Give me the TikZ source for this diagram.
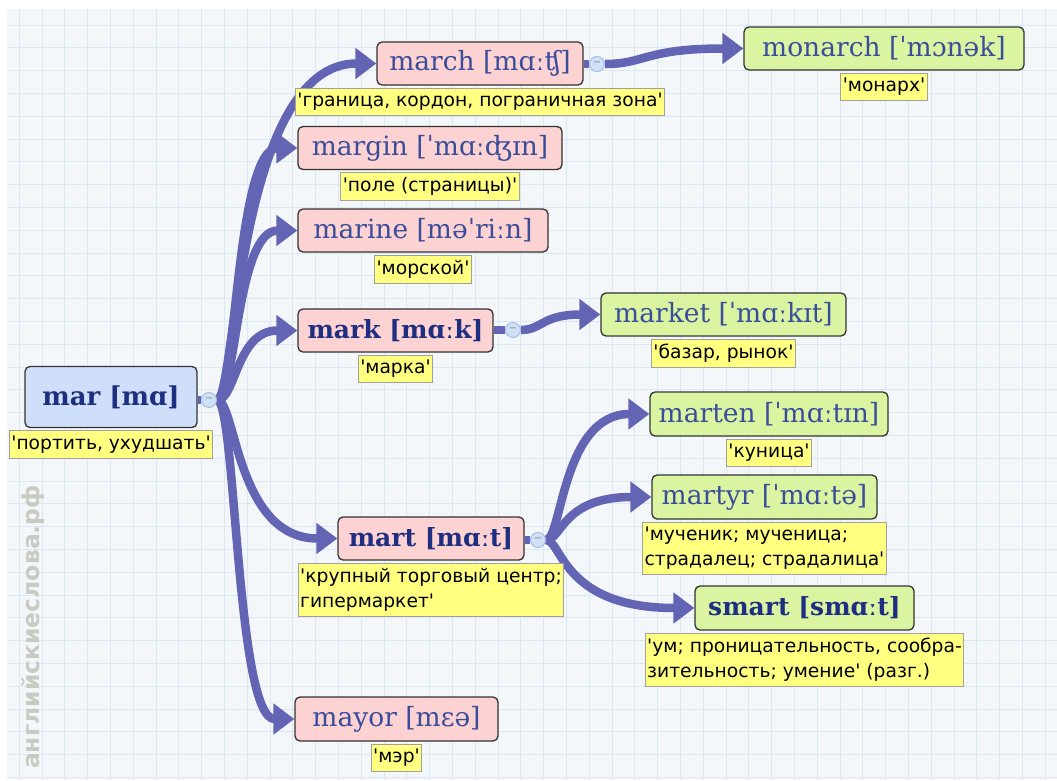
\documentclass[tikz,border=0pt]{standalone}
\usepackage{fontspec}
\setmainfont{DejaVu Serif}
\newfontfamily\hwfont{DejaVu Serif}[Ligatures=TeXOff]
\newfontfamily\glfont{DejaVu Sans}[Ligatures=TeXOff]
\newfontfamily\wmfont{DejaVu Sans}[Ligatures=TeXOff]
\usetikzlibrary{arrows.meta,positioning,calc}
\pgfdeclarelayer{gridlayer}
\pgfdeclarelayer{linklayer}
\pgfsetlayers{gridlayer,linklayer,main}
\definecolor{gridbg}{HTML}{F4F7FA}
\definecolor{gridline}{HTML}{DCE8F1}
\definecolor{linkc}{HTML}{6464B4}
\definecolor{rootfill}{HTML}{CFDFFA}
\definecolor{pinkfill}{HTML}{FCD2D2}
\definecolor{greenfill}{HTML}{DAF4A2}
\definecolor{glossfill}{HTML}{FFFF80}
\definecolor{glossline}{HTML}{A0A0A0}
\definecolor{hwtext}{HTML}{3A4D9A}
\definecolor{hwbold}{HTML}{1E2E80}
\definecolor{knobfill}{HTML}{D0E0F6}
\definecolor{knobline}{HTML}{A6BEE6}
\definecolor{wmcolor}{HTML}{C9CBC2}
\tikzset{
  word/.style={draw=black!80, line width=1.3pt, rounded corners=5pt, inner sep=0pt,
    minimum height=43pt, text=hwtext, font=\hwfont\fontsize{26.5}{30}\selectfont},
  boldword/.style={word, text=hwbold, font=\hwfont\bfseries\fontsize{25}{30}\selectfont},
  pinkword/.style={fill=pinkfill},
  greenword/.style={fill=greenfill},
  gloss/.style={draw=glossline, fill=glossfill, line width=1pt, inner xsep=2pt, inner ysep=5pt,
    align=left, font=\glfont\fontsize{18.7}{25}\selectfont, text=black},
  knob/.style={circle, draw=knobline, fill=knobfill, line width=1pt, minimum size=15pt,
    inner sep=0pt, text=black!45, font=\glfont\fontsize{10}{10}\selectfont},
  link/.style={draw=linkc, line width=8.5pt, -{Triangle[length=21pt 0 0,width=30pt 0 0]}},
  stub/.style={draw=linkc, line width=8.5pt},
}
\begin{document}
\begin{tikzpicture}[x=1pt,y=-1pt]
\useasboundingbox (0,0) rectangle (1057,780);
% background grid
\begin{pgfonlayer}{gridlayer}
  \fill[white] (0,0) rectangle (1057,780);
  \fill[gridbg] (7,9) rectangle (1057,780);
  \foreach \i in {0,...,45} \draw[gridline, line width=1pt] (19.3+\i*22.8,9) -- (19.3+\i*22.8,780);
  \foreach \j in {0,...,33} \draw[gridline, line width=1pt] (7,25+\j*22.8) -- (1057,25+\j*22.8);
\end{pgfonlayer}

% watermark
\node[rotate=90, text=wmcolor, font=\wmfont\bfseries\fontsize{23.5}{23.5}\selectfont] (wm) at (33,627) {английскиеслова.рф};

% headwords
\node[boldword, fill=rootfill, minimum width=172pt, minimum height=61pt, font=\hwfont\bfseries\fontsize{26}{30}\selectfont] (mar) at (111,397) {mar [mɑ]};
\node[word, pinkword, minimum width=206pt] (march) at (480,63.5) {march [mɑːʧ]};
\node[word, greenword, minimum width=280pt] (monarch) at (884,48.5) {monarch [ˈmɔnək]};
\node[word, pinkword, minimum width=264pt] (margin) at (430,148) {margin [ˈmɑːʤɪn]};
\node[word, pinkword, minimum width=250pt] (marine) at (423,230.5) {marine [məˈriːn]};
\node[boldword, pinkword, minimum width=195pt] (mark) at (395.5,330.5) {mark [mɑːk]};
\node[word, greenword, minimum width=245pt] (market) at (723.5,314.5) {market [ˈmɑːkɪt]};
\node[word, greenword, minimum width=238pt, minimum height=44pt] (marten) at (769,414) {marten [ˈmɑːtɪn]};
\node[word, greenword, minimum width=225pt, minimum height=44pt] (martyr) at (764.5,497) {martyr [ˈmɑːtə]};
\node[boldword, pinkword, minimum width=186pt] (mart) at (431,538.5) {mart [mɑːt]};
\node[boldword, greenword, minimum width=219pt, minimum height=44pt] (smart) at (804.5,608) {smart [smɑːt]};
\node[word, pinkword, minimum width=203pt, minimum height=44pt] (mayor) at (396.5,719) {mayor [mɛə]};

% glosses
\node[gloss, below=2pt of mar] (gmar) {'портить, ухудшать'};
\node[gloss, below=2pt of march] (gmarch) {'граница, кордон, пограничная зона'};
\node[gloss, below=2pt of monarch] (gmonarch) {'монарх'};
\node[gloss, below=2pt of margin] (gmargin) {'поле (страницы)'};
\node[gloss, below=2pt of marine] (gmarine) {'морской'};
\node[gloss, below=2pt of mark] (gmark) {'марка'};
\node[gloss, below=2pt of market] (gmarket) {'базар, рынок'};
\node[gloss, below=2pt of marten] (gmarten) {'куница'};
\node[gloss, below=2pt of martyr] (gmartyr) {'мученик; мученица;\\страдалец; страдалица'};
\node[gloss, below=2pt of mart] (gmart) {'крупный торговый центр;\\гипермаркет'};
\node[gloss, below=2pt of smart] (gsmart) {'ум; проницательность, сообра-\\зительность; умение' (разг.)};
\node[gloss, below=2pt of mayor] (gmayor) {'мэр'};

% collapse knobs
\node[knob] (kmar) at (209,400) {−};
\node[knob] (kmarch) at (597,64) {−};
\node[knob] (kmark) at (513,330) {−};
\node[knob] (kmart) at (538,540) {−};

\coordinate (tmar) at (236,400);
\coordinate (tmart) at (562,540);
\coordinate (tmarch) at (645,64);
\coordinate (tmark) at (542,330);

% connectors
\begin{pgfonlayer}{linklayer}
  \draw[stub] (mar.east |- kmar) -- (kmar);
  \draw[stub] (march.east |- kmarch) -- (kmarch);
  \draw[stub] (mark.east |- kmark) -- (kmark);
  \draw[stub] (mart.east |- kmart) -- (kmart);
  \draw[link] (kmar) .. controls (tmar) and (tmar |- march.west) .. (march.west);
  \draw[link] (kmar) .. controls (tmar) and (tmar |- margin.west) .. (margin.west);
  \draw[link] (kmar) .. controls (tmar) and (tmar |- marine.west) .. (marine.west);
  \draw[link] (kmar) .. controls (tmar) and (tmar |- mark.west) .. (mark.west);
  \draw[link] (kmar) .. controls (tmar) and (tmar |- mart.west) .. (mart.west);
  \draw[link] (kmar) .. controls (tmar) and (tmar |- mayor.west) .. (mayor.west);
  \draw[link] (kmarch) .. controls (tmarch) and (tmarch |- monarch.west) .. (monarch.west);
  \draw[link] (kmark) .. controls (tmark) and (tmark |- market.west) .. (market.west);
  \draw[link] (kmart) .. controls (tmart) and (tmart |- marten.west) .. (marten.west);
  \draw[link] (kmart) .. controls (tmart) and (tmart |- martyr.west) .. (martyr.west);
  \draw[link] (kmart) .. controls (tmart) and (tmart |- smart.west) .. (smart.west);
\end{pgfonlayer}
\end{tikzpicture}
\end{document}
